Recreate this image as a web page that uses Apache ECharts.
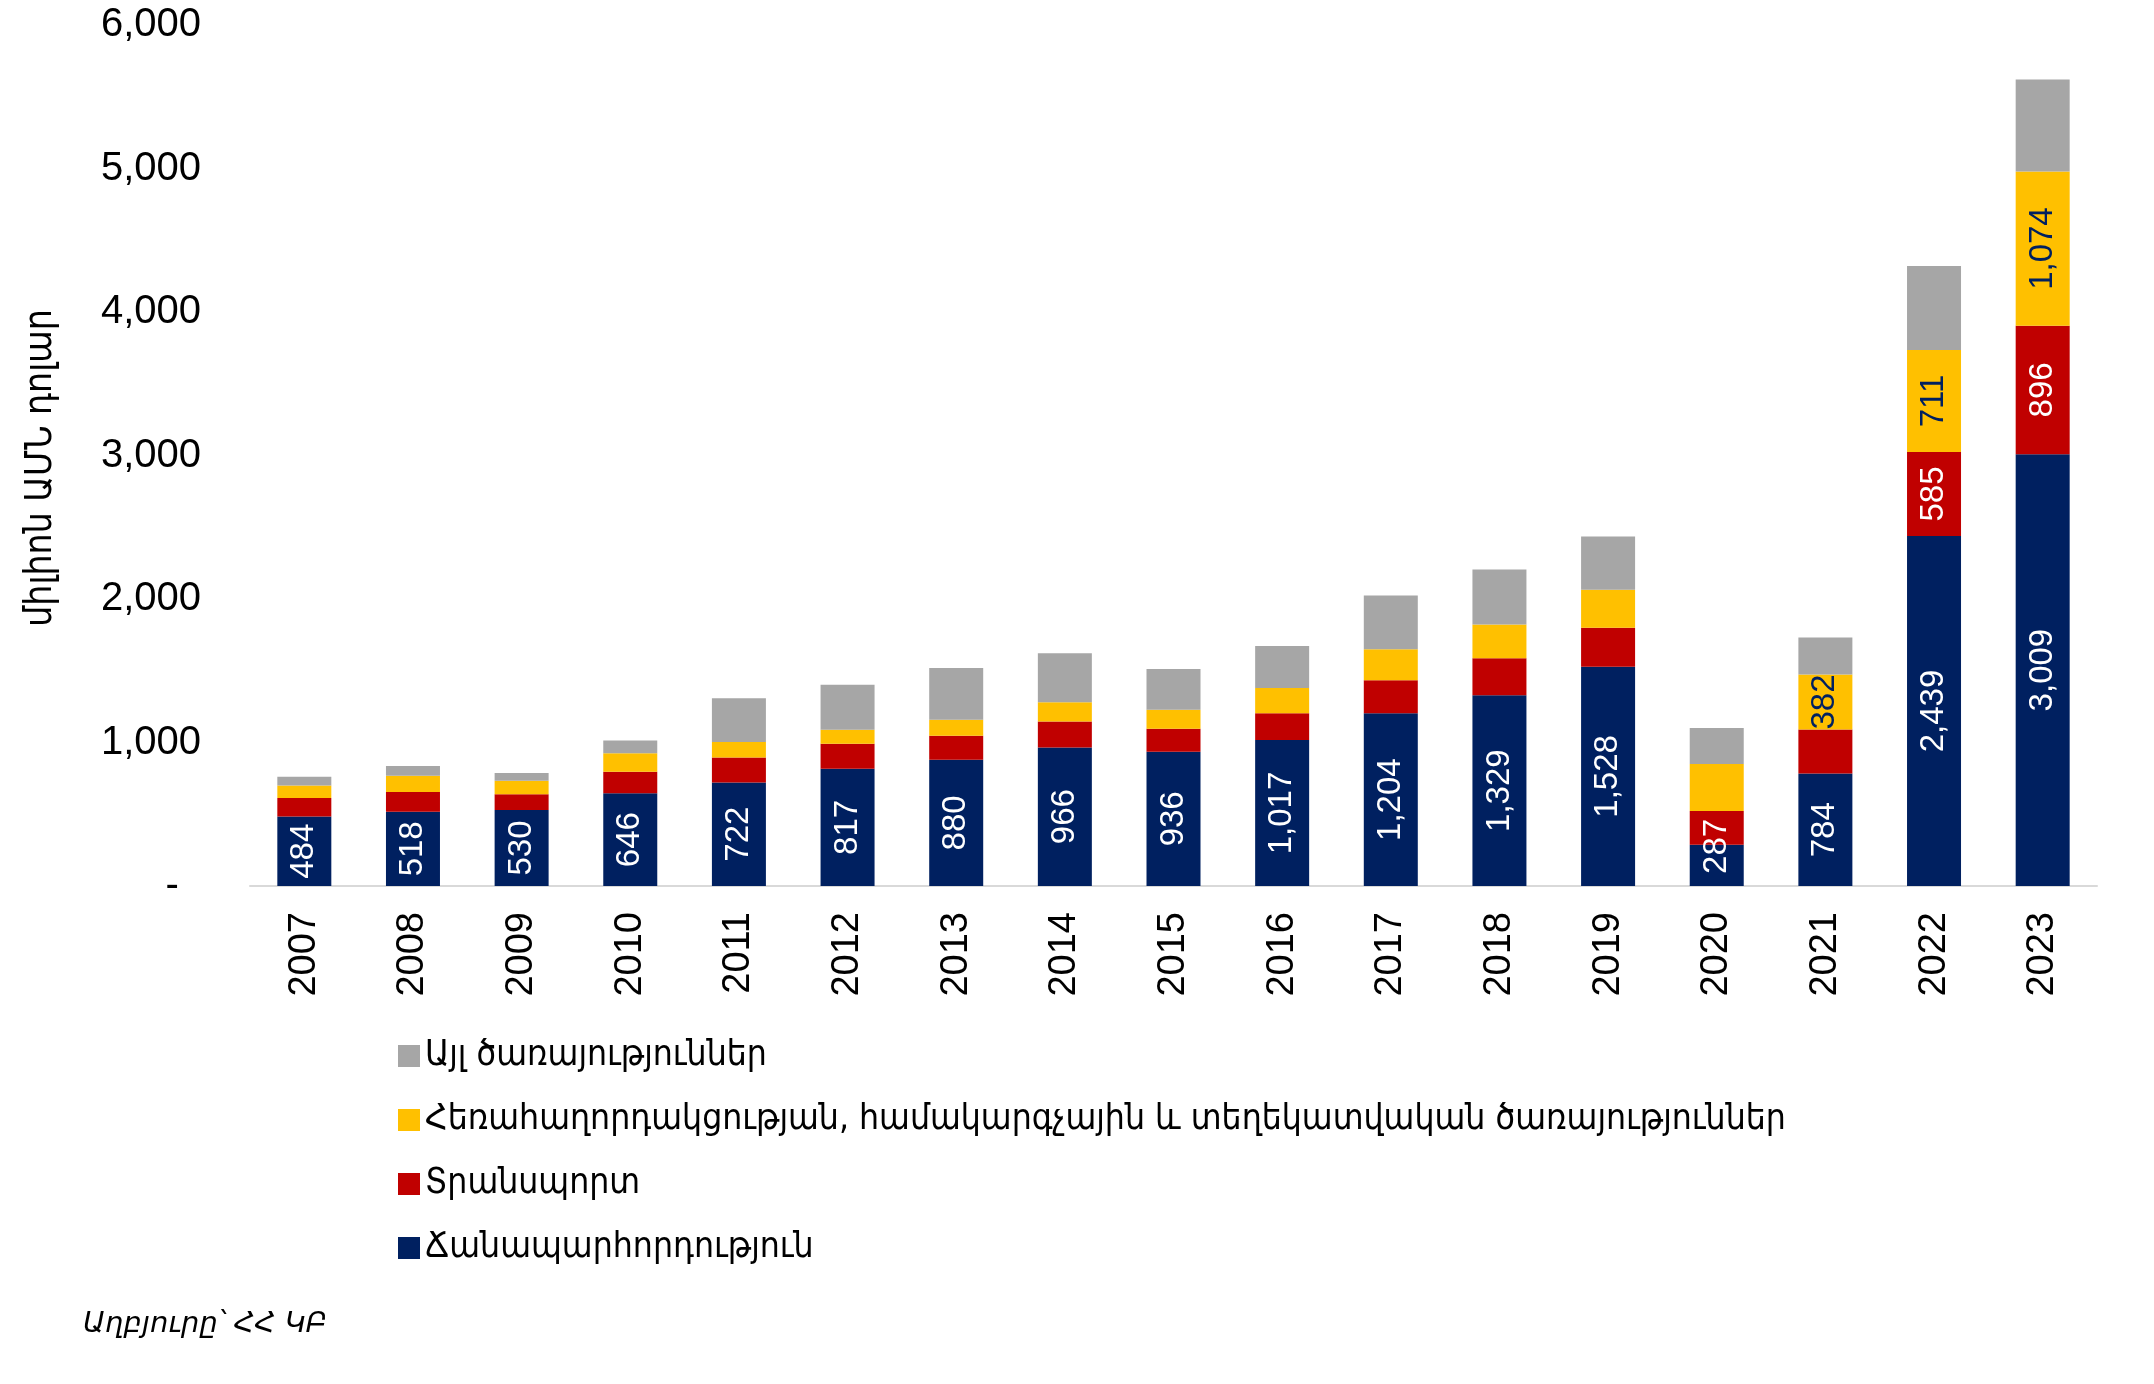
<!DOCTYPE html>
<html>
<head>
<meta charset="utf-8">
<script src="https://cdn.jsdelivr.net/npm/echarts@6/dist/echarts.min.js"></script>
<style>
html, body { margin: 0; padding: 0; background: #ffffff; }
#chart { width: 2154px; height: 1384px; }
</style>
</head>
<body>
<div id="chart"></div>
<script>
// ---- data ----
const years = ['2007','2008','2009','2010','2011','2012','2013','2014','2015','2016','2017','2018','2019','2020','2021','2022','2023'];
const travel    = [484, 518, 530, 646, 722, 817, 880, 966, 936, 1017, 1204, 1329, 1528, 287, 784, 2439, 3009];
const transport = [130, 137, 110, 151, 174, 174, 167, 181, 160, 186, 230, 258, 272, 235, 307, 585, 896];
const telecom   = [86, 114, 93, 128, 107, 98, 112, 133, 133, 177, 216, 235, 265, 328, 382, 711, 1074];
const other     = [61, 68, 54, 89, 305, 314, 361, 342, 284, 293, 375, 384, 370, 251, 258, 586, 642];

const nameTravel = 'Ճանապարհորդություն';
const nameTransport = 'Տրանսպորտ';
const nameTelecom = 'Հեռահաղորդակցության, համակարգչային և տեղեկատվական ծառայություններ';
const nameOther = 'Այլ ծառայություններ';

const travelLabelYears = years.slice();
const transportLabelYears = ['2022', '2023'];
const telecomLabelYears = ['2021', '2022', '2023'];
const otherLabelYears = [];

const yTickMin = 0, yTickMax = 6000, yTickStep = 1000;
const axisTitle = 'միլիոն ԱՄՆ դոլար';
const sourceText = 'Աղբյուրը՝ ՀՀ ԿԲ';

// ---- styles ----
const NAVY = '#002060', RED = '#C00000', YELLOW = '#FFC000', GREY = '#A6A6A6';
const LABEL_FONT = "'Liberation Sans', Arial, sans-serif";
const ARM_FONT = "'DejaVu Sans Condensed', 'DejaVu Sans', sans-serif";

function fmt(v) { return Number(v).toLocaleString('en-US'); }

function makeSeries(name, values, color, labelYears, labelColor) {
  return {
    name: name,
    type: 'bar',
    stack: 'total',
    barWidth: 54,
    itemStyle: { color: color },
    emphasis: { disabled: true },
    label: {
      show: false,
      position: 'inside',
      rotate: 90,
      color: labelColor,
      fontFamily: LABEL_FONT,
      fontSize: 33,
      formatter: function (p) { return fmt(p.value); }
    },
    data: values.map(function (v, i) {
      const item = { value: v, label: { show: labelYears.indexOf(years[i]) >= 0 } };
      if (name === nameTravel && years[i] === '2020') item.label.offset = [19, 0];
      return item;
    })
  };
}

const chart = echarts.init(document.getElementById('chart'), null, { renderer: 'canvas' });
chart.setOption({
  animation: false,
  backgroundColor: '#ffffff',
  grid: { left: 250, right: 57, top: 25, bottom: 498 },
  xAxis: {
    type: 'category',
    data: years,
    axisLine: { show: true, lineStyle: { color: '#D9D9D9', width: 2 } },
    axisTick: { show: false },
    axisLabel: { rotate: 90, fontSize: 38, fontFamily: "'Liberation Sans', Arial, sans-serif", color: '#000000', margin: 26 }
  },
  yAxis: {
    type: 'value',
    min: yTickMin, max: yTickMax, interval: yTickStep,
    axisLine: { show: false },
    axisTick: { show: false },
    splitLine: { show: false },
    axisLabel: {
      fontSize: 40, fontFamily: "'Liberation Sans', Arial, sans-serif", color: '#000000', margin: 49,
      formatter: function (v) { return v === 0 ? '-  ' : fmt(v); }
    }
  },
  legend: {
    orient: 'vertical',
    left: 393, top: 1031,
    itemWidth: 22, itemHeight: 22, itemGap: 24,
    icon: 'rect',
    selectedMode: false,
    data: [nameOther, nameTelecom, nameTransport, nameTravel],
    textStyle: { fontFamily: ARM_FONT, fontSize: 35.2, color: '#000000', lineHeight: 40 }
  },
  graphic: [
    {
      type: 'text', x: 41, y: 468, rotation: Math.PI / 2,
      style: { text: axisTitle, fontFamily: ARM_FONT, fontSize: 37, fill: '#000000', align: 'center', verticalAlign: 'middle' }
    },
    {
      type: 'text', x: 83, y: 1324,
      style: { text: sourceText, fontFamily: "'DejaVu Sans', sans-serif", fontStyle: 'italic', fontSize: 29, fill: '#000000', align: 'left', verticalAlign: 'middle' }
    }
  ],
  series: [
    makeSeries(nameTravel, travel, NAVY, travelLabelYears, '#ffffff'),
    makeSeries(nameTransport, transport, RED, transportLabelYears, '#ffffff'),
    makeSeries(nameTelecom, telecom, YELLOW, telecomLabelYears, NAVY),
    makeSeries(nameOther, other, GREY, otherLabelYears, '#000000')
  ]
});
</script>
</body>
</html>
